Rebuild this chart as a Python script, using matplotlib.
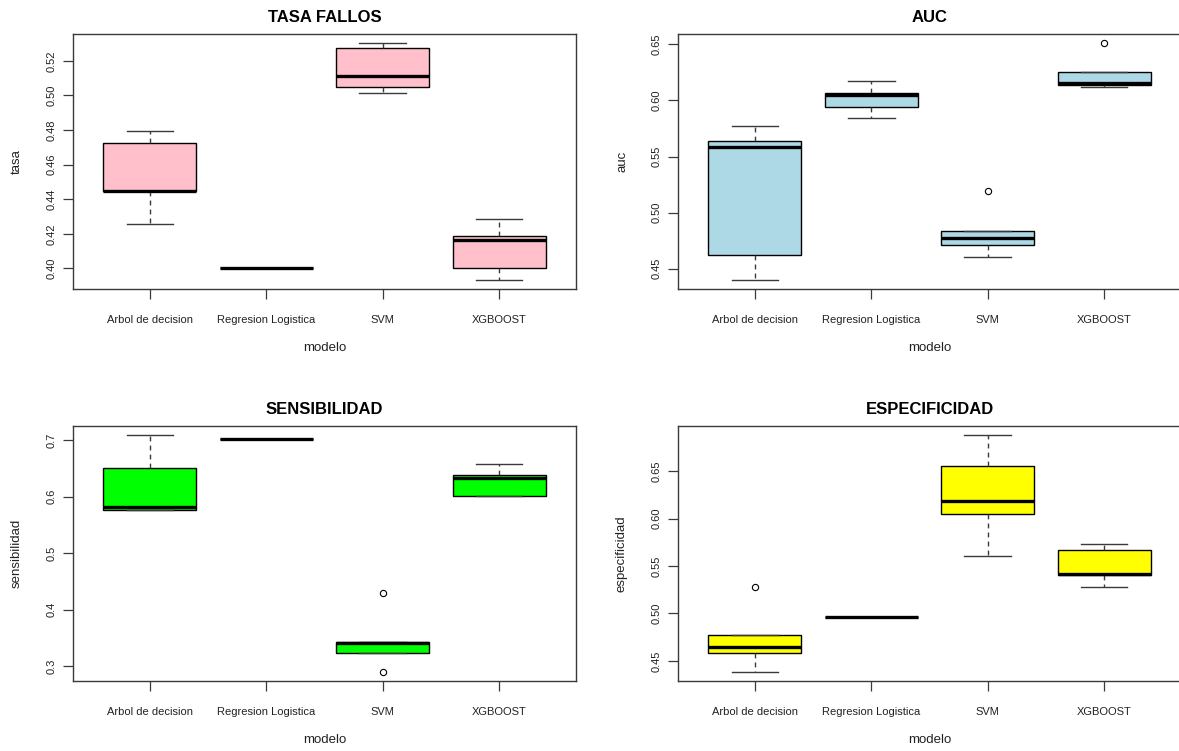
import matplotlib
matplotlib.use("Agg")
import matplotlib.pyplot as plt
import numpy as np

plt.rcParams['font.family'] = ['Liberation Sans', 'DejaVu Sans']

modelos = ["Arbol de decision", "Regresion Logistica", "SVM", "XGBOOST"]

# TASA FALLOS
tasa_whislo = [0.4255, 0.4000, 0.5014, 0.3936]
tasa_q1     = [0.4445, 0.4000, 0.5049, 0.4000]
tasa_med    = [0.4450, 0.4000, 0.5112, 0.4162]
tasa_q3     = [0.4725, 0.4000, 0.5275, 0.4188]
tasa_whishi = [0.4794, 0.4000, 0.5300, 0.4288]
tasa_fliers = [[], [], [], []]

# AUC
auc_whislo = [0.4402, 0.5848, 0.4607, 0.6116]
auc_q1     = [0.4625, 0.5938, 0.4714, 0.6134]
auc_med    = [0.5589, 0.6045, 0.4777, 0.6160]
auc_q3     = [0.5634, 0.6071, 0.4839, 0.6250]
auc_whishi = [0.5768, 0.6170, 0.4839, 0.6250]
auc_fliers = [[], [], [0.5188], [0.6509]]

# SENSIBILIDAD
sens_whislo = [0.5760, 0.7016, 0.3230, 0.6003]
sens_q1     = [0.5760, 0.7016, 0.3230, 0.6003]
sens_med    = [0.5820, 0.7016, 0.3406, 0.6327]
sens_q3     = [0.6510, 0.7016, 0.3424, 0.6386]
sens_whishi = [0.7080, 0.7016, 0.3424, 0.6570]
sens_fliers = [[], [], [0.4300, 0.2905], []]

# ESPECIFICIDAD
esp_whislo = [0.4387, 0.4963, 0.5605, 0.5282]
esp_q1     = [0.4581, 0.4963, 0.6051, 0.5405]
esp_med    = [0.4647, 0.4963, 0.6181, 0.5416]
esp_q3     = [0.4770, 0.4963, 0.6553, 0.5665]
esp_whishi = [0.4770, 0.4963, 0.6876, 0.5732]
esp_fliers = [[0.5282], [], [], []]

tasa_ticks = [0.40, 0.42, 0.44, 0.46, 0.48, 0.50, 0.52]
auc_ticks = [0.45, 0.50, 0.55, 0.60, 0.65]
sens_ticks = [0.3, 0.4, 0.5, 0.6, 0.7]
esp_ticks = [0.45, 0.50, 0.55, 0.60, 0.65]

panels = [
    ("TASA FALLOS", "tasa", "pink", tasa_whislo, tasa_q1, tasa_med, tasa_q3, tasa_whishi, tasa_fliers, tasa_ticks, "%.2f"),
    ("AUC", "auc", "lightblue", auc_whislo, auc_q1, auc_med, auc_q3, auc_whishi, auc_fliers, auc_ticks, "%.2f"),
    ("SENSIBILIDAD", "sensibilidad", "#00FF00", sens_whislo, sens_q1, sens_med, sens_q3, sens_whishi, sens_fliers, sens_ticks, "%.1f"),
    ("ESPECIFICIDAD", "especificidad", "yellow", esp_whislo, esp_q1, esp_med, esp_q3, esp_whishi, esp_fliers, esp_ticks, "%.2f"),
]

W, H = 1179, 751
fig = plt.figure(figsize=(W / 100, H / 100), dpi=100)

# pixel boxes: left, top, width, height
boxes = [(73, 34, 503, 255), (678, 34, 503, 255), (73, 426, 503, 255), (678, 426, 503, 255)]

edge = "#3a3a3a"
for (title, ylab, color, wlo, q1, med, q3, whi, fl, ticks, fmt), (l, t, w, h) in zip(panels, boxes):
    ax = fig.add_axes([l / W, 1 - (t + h) / H, w / W, h / H])
    stats = []
    for i, name in enumerate(modelos):
        stats.append(dict(label=name, whislo=wlo[i], q1=q1[i], med=med[i], q3=q3[i], whishi=whi[i], fliers=fl[i]))
    bp = ax.bxp(stats, positions=range(1, 5), widths=0.8, capwidths=0.4, patch_artist=True,
                boxprops=dict(facecolor=color, edgecolor="black", linewidth=1.0),
                whiskerprops=dict(color=edge, linewidth=1.0, linestyle=(0, (3.5, 3))),
                capprops=dict(color=edge, linewidth=1.0),
                medianprops=dict(color="black", linewidth=2.4, solid_capstyle="butt"),
                flierprops=dict(marker="o", markerfacecolor="none", markeredgecolor="black",
                                markersize=4.5, markeredgewidth=0.8))
    allv = wlo + whi + [v for f in fl for v in f]
    lo, hi = min(allv), max(allv)
    pad = 0.04 * (hi - lo)
    ax.set_ylim(lo - pad, hi + pad)
    ax.set_xlim(0.5 - 0.16, 4.5 + 0.16)
    ax.set_yticks(ticks)
    ax.set_yticklabels([fmt % v for v in ticks], rotation=90, va="center", fontsize=8, color="#222222")
    ax.set_xticks(range(1, 5))
    ax.set_xticklabels(modelos, fontsize=8, color="#222222")
    ax.tick_params(axis="y", length=7, width=0.9, color=edge, pad=5)
    ax.tick_params(axis="x", length=7, width=0.9, color=edge, pad=12)
    for s in ax.spines.values():
        s.set_color(edge)
        s.set_linewidth(1.0)
    ax.set_ylabel(ylab, fontsize=9.5, color="#222222")
    ax.yaxis.set_label_coords((17 - l) / w if l < 100 else (622 - l) / w, 0.5)
    ax.yaxis.label.set_va("center")
    ax.set_xlabel("modelo", fontsize=9.5, color="#222222")
    ax.xaxis.set_label_coords(0.5, -59 / h)
    ax.xaxis.label.set_va("center")
    ax.text(0.5, 1 + 17 / h, title, transform=ax.transAxes, ha="center", va="center",
            fontsize=12, fontweight="bold")

fig.savefig("out.png", dpi=100)
